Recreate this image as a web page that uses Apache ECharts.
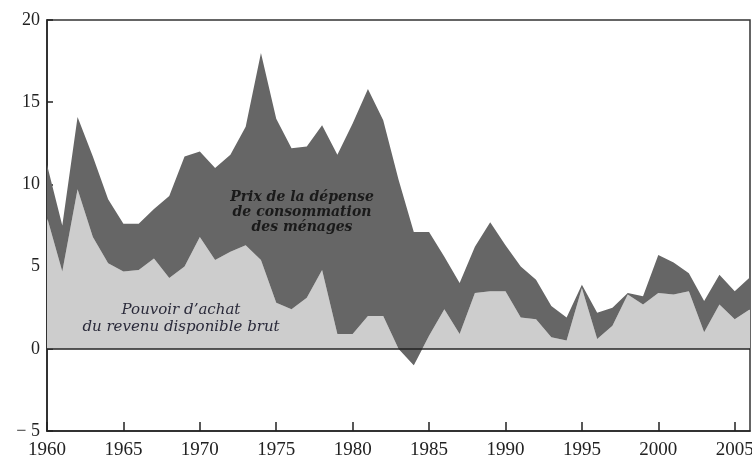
<!DOCTYPE html>
<html>
<head>
<meta charset="utf-8">
<title>Revenu disponible brut</title>
<script src="https://cdn.jsdelivr.net/npm/echarts@6/dist/echarts.min.js"></script>
<style>
    html, body { margin: 0; padding: 0; background: #fff; }
    #main { width: 752px; height: 464px; }
</style>
</head>
<body>
<div id="main"></div>
<script>
/*données*/
var annees = [];
for (var a = 1960; a <= 2006; a++) { annees.push(String(a)); }

/*pouvoir d'achat du revenu disponible brut (%)*/
var pouvoirAchat = [
    8.0, 4.7, 9.7, 6.8, 5.2, 4.7, 4.8, 5.5, 4.3, 5.0,
    6.8, 5.4, 5.9, 6.3, 5.4, 2.8, 2.4, 3.1, 4.8, 0.9,
    0.9, 2.0, 2.0, 0.0, -1.0, 0.8, 2.4, 0.9, 3.4, 3.5,
    3.5, 1.9, 1.8, 0.7, 0.5, 3.7, 0.6, 1.4, 3.3, 2.7,
    3.4, 3.3, 3.5, 1.0, 2.7, 1.8, 2.4
];

/*prix de la dépense de consommation des ménages (%)*/
var prixConso = [
    3.2, 2.8, 4.4, 4.9, 3.9, 2.9, 2.8, 3.0, 5.0, 6.7,
    5.2, 5.6, 5.9, 7.2, 12.6, 11.2, 9.8, 9.2, 8.8, 10.9,
    12.8, 13.8, 11.9, 10.3, 8.1, 6.3, 3.2, 3.1, 2.8, 4.2,
    2.8, 3.1, 2.4, 1.9, 1.4, 0.2, 1.6, 1.1, 0.1, 0.5,
    2.3, 1.95, 1.1, 1.9, 1.8, 1.7, 1.95
];

var yTicks = [-5, 0, 5, 10, 15, 20];

var serif = '"Liberation Serif", "DejaVu Serif", serif';

var myChart = echarts.init(document.getElementById('main'));

var option = {
    animation: false,
    backgroundColor: '#fff',
    grid: {
        left: 47, right: 2, top: 20, bottom: 33,
        outerBoundsMode: 'none',
        containLabel: false,
        show: true,
        borderColor: '#333',
        borderWidth: 1.5
    },
    xAxis: {
        type: 'category',
        data: annees,
        boundaryGap: false,
        /*axe en bas, pas sur le zéro*/
        axisLine: { onZero: false, lineStyle: { color: '#222', width: 1.5 } },
        /*une graduation tous les 5 ans*/
        axisTick: { show: true, inside: true, length: 9, interval: 4, lineStyle: { color: '#222', width: 1.5 } },
        axisLabel: {
            interval: 4,
            color: '#222',
            fontFamily: serif,
            fontSize: 19,
            margin: 10
        },
        splitLine: { show: false }
    },
    yAxis: {
        type: 'value',
        min: yTicks[0],
        max: yTicks[yTicks.length - 1],
        interval: 5,
        axisLine: { show: true, lineStyle: { color: '#222', width: 1.5 } },
        axisTick: { show: true, inside: true, length: 6, lineStyle: { color: '#222', width: 1.5 } },
        axisLabel: {
            color: '#222',
            fontFamily: serif,
            fontSize: 18,
            margin: 7,
            formatter: function (v) {
                return v < 0 ? '\u2212 ' + Math.abs(v) : String(v);
            }
        },
        splitLine: { show: false }
    },
    series: [
        {
            name: 'Pouvoir d\u2019achat',
            type: 'line',
            stack: 'rdb',
            stackStrategy: 'all',
            data: pouvoirAchat,
            showSymbol: false,
            symbol: 'none',
            lineStyle: { width: 0 },
            areaStyle: { color: '#cdcdcd', opacity: 1 },
            z: 2
        },
        {
            name: 'Prix',
            type: 'line',
            stack: 'rdb',
            stackStrategy: 'all',
            data: prixConso,
            showSymbol: false,
            symbol: 'none',
            lineStyle: { width: 0 },
            areaStyle: { color: '#666666', opacity: 1 },
            z: 3,
            markLine: {
                silent: true,
                symbol: 'none',
                label: { show: false },
                lineStyle: { color: '#222', width: 1.5, type: 'solid' },
                data: [{ yAxis: 0 }]
            }
        }
    ],
    graphic: [
        {
            type: 'text',
            x: 302, y: 190,
            z: 10,
            style: {
                text: 'Prix de la dépense\nde consommation\ndes ménages',
                align: 'center',
                font: 'italic bold 14px "DejaVu Serif", serif',
                lineHeight: 15,
                fill: '#1a1a1a'
            }
        },
        {
            type: 'text',
            x: 181, y: 302,
            z: 10,
            style: {
                text: 'Pouvoir d\u2019achat\ndu revenu disponible brut',
                align: 'center',
                font: 'italic 15px "DejaVu Serif", serif',
                lineHeight: 17,
                fill: '#2a2a3a'
            }
        }
    ]
};

myChart.setOption(option);
</script>
</body>
</html>
